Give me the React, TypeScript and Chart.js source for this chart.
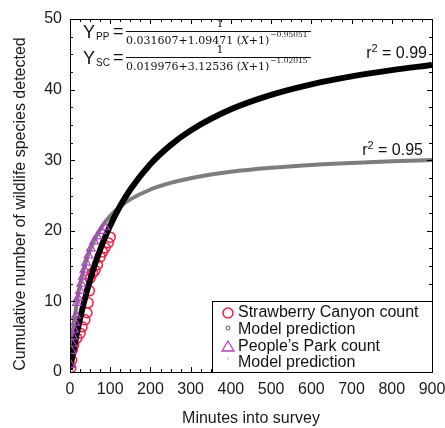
import React, { useEffect, useRef } from "react";
import { Chart, registerables } from "chart.js";

Chart.register(...registerables);

// Model prediction curves
const modelMinutes = [0, 5, 10, 20, 30, 40, 50, 60, 80, 100, 125, 150, 200, 250, 300, 400, 500, 600, 700, 800, 900];
const scModel = [0.32, 1.92, 3.44, 6.25, 8.77, 11.02, 13.06, 14.89, 18.09, 20.76, 23.54, 25.85, 29.46, 32.14, 34.21, 37.2, 39.25, 40.74, 41.87, 42.76, 43.49];
const ppModel = [0.89, 4.33, 6.96, 10.84, 13.61, 15.7, 17.33, 18.66, 20.66, 22.11, 23.45, 24.45, 25.85, 26.78, 27.45, 28.35, 28.92, 29.32, 29.61, 29.84, 30.02];

// Observed counts
const scMinutes = [2, 4, 6, 9, 17, 25, 30, 37, 42, 45, 48, 50, 56, 62, 68, 75, 81, 87, 95, 100];
const scCounts = [0.6, 1.7, 3.2, 3.8, 4.8, 5.5, 6.4, 7.4, 8.4, 9.8, 11.5, 13.3, 14, 14.4, 15.2, 16.3, 17, 17.6, 18.3, 19.1];
const ppMinutes = [2, 4, 6, 8, 10, 13, 15, 17, 20, 25, 28, 32, 36, 40, 46, 52, 60, 68, 78, 87];
const ppCounts = [1, 3, 4, 5, 6, 7, 8, 9.8, 10.5, 11.5, 12.5, 13.5, 14.5, 15.5, 16.5, 17.5, 18.5, 19.2, 20, 20.5];

const xTicks = [0, 100, 200, 300, 400, 500, 600, 700, 800, 900];
const yTicks = [0, 10, 20, 30, 40, 50];

const SANS = "'Liberation Sans', Arial, sans-serif";
const SERIF = "'DejaVu Serif', 'Liberation Serif', serif";

function drawFormula(ctx: CanvasRenderingContext2D, barY: number, sub: string, denom1: string, denom2: string, sup: string) {
  ctx.save();
  ctx.fillStyle = "#111";
  ctx.textBaseline = "alphabetic";
  ctx.textAlign = "left";
  ctx.font = `18px ${SANS}`;
  ctx.fillText("Y", 83, barY + 7);
  ctx.font = `10px ${SANS}`;
  ctx.fillText(sub, 96, barY + 9);
  ctx.font = `18px ${SANS}`;
  ctx.fillText("=", 113, barY + 6);
  // bar
  ctx.strokeStyle = "#111";
  ctx.lineWidth = 1;
  ctx.beginPath();
  ctx.moveTo(126, barY + 0.5);
  ctx.lineTo(311, barY + 0.5);
  ctx.stroke();
  // numerator
  ctx.font = `11px ${SERIF}`;
  ctx.textAlign = "center";
  ctx.fillText("1", 220, barY - 4);
  // denominator
  ctx.textAlign = "left";
  let x = 126;
  const by = barY + 13;
  ctx.font = `11px ${SERIF}`;
  ctx.fillText(denom1, x, by);
  x += ctx.measureText(denom1).width;
  ctx.font = `italic 11px ${SERIF}`;
  ctx.fillText("X", x, by);
  x += ctx.measureText("X").width;
  ctx.font = `11px ${SERIF}`;
  ctx.fillText(denom2, x, by);
  x += ctx.measureText(denom2).width + 1;
  ctx.font = `7.5px ${SERIF}`;
  ctx.fillText(sup, x, by - 7);
  ctx.restore();
}

const overlay = {
  id: "overlay",
  afterDraw(chart: any) {
    const ctx: CanvasRenderingContext2D = chart.ctx;
    const { left, right, top, bottom } = chart.chartArea;
    const xs = chart.scales.x;
    const ys = chart.scales.y;
    ctx.save();
    // frame
    ctx.strokeStyle = "#000";
    ctx.lineWidth = 1;
    ctx.strokeRect(Math.round(left) + 0.5, Math.round(top) + 0.5, Math.round(right - left), Math.round(bottom - top));
    // inward ticks
    ctx.beginPath();
    for (let v = 0; v <= 900; v += 25) {
      const px = Math.round(xs.getPixelForValue(v)) + 0.5;
      const len = v % 100 === 0 ? 5 : 3;
      ctx.moveTo(px, bottom);
      ctx.lineTo(px, bottom - len);
      ctx.moveTo(px, top);
      ctx.lineTo(px, top + len);
    }
    for (let v = 0; v <= 50; v += 2.5) {
      const py = Math.round(ys.getPixelForValue(v)) + 0.5;
      const len = v % 10 === 0 ? 5 : 3;
      ctx.moveTo(left, py);
      ctx.lineTo(left + len, py);
      ctx.moveTo(right, py);
      ctx.lineTo(right - len, py);
    }
    ctx.stroke();

    // y axis title
    ctx.save();
    ctx.translate(21, 204);
    ctx.rotate(-Math.PI / 2);
    ctx.font = `16px ${SANS}`;
    ctx.fillStyle = "#1a1a1a";
    ctx.textAlign = "center";
    ctx.textBaseline = "middle";
    ctx.fillText("Cumulative number of wildlife species detected", 0, 0);
    ctx.restore();

    // formulas
    drawFormula(ctx, 31, "PP", "0.031607+1.09471 (", "+1)", "\u22120.95051");
    drawFormula(ctx, 57, "SC", "0.019976+3.12536 (", "+1)", "\u22121.02015");

    // r^2 labels
    const r2 = (txt: string, xr: number, y: number) => {
      ctx.font = `16px ${SANS}`;
      ctx.fillStyle = "#111";
      ctx.textAlign = "left";
      ctx.textBaseline = "alphabetic";
      const w1 = ctx.measureText("r").width;
      ctx.font = `11px ${SANS}`;
      const w2 = ctx.measureText("2").width;
      ctx.font = `16px ${SANS}`;
      const w3 = ctx.measureText(txt).width;
      const x0 = xr - (w1 + w2 + w3);
      ctx.fillText("r", x0, y);
      ctx.font = `11px ${SANS}`;
      ctx.fillText("2", x0 + w1, y - 6);
      ctx.font = `16px ${SANS}`;
      ctx.fillText(txt, x0 + w1 + w2, y);
    };
    r2(" = 0.99", 427, 58);
    r2(" = 0.95", 423, 155);

    // legend
    const lx = 212, ly = 301, lw = right - 212, lh = bottom - 301;
    ctx.fillStyle = "#fff";
    ctx.fillRect(lx, ly, lw, lh);
    ctx.strokeStyle = "#000";
    ctx.lineWidth = 1;
    ctx.strokeRect(lx + 0.5, ly + 0.5, lw, lh);
    const rows = [313, 330, 347, 363];
    const labels = ["Strawberry Canyon count", "Model prediction", "People\u2019s Park count", "Model prediction"];
    const mx = 228;
    ctx.strokeStyle = "#ff1a3c";
    ctx.lineWidth = 1.5;
    ctx.beginPath();
    ctx.arc(mx, rows[0], 5, 0, Math.PI * 2);
    ctx.stroke();
    ctx.strokeStyle = "#555";
    ctx.lineWidth = 1;
    ctx.beginPath();
    ctx.arc(mx, rows[1] - 2, 2, 0, Math.PI * 2);
    ctx.stroke();
    ctx.strokeStyle = "#c03cc8";
    ctx.lineWidth = 1.3;
    ctx.beginPath();
    ctx.moveTo(mx, rows[2] - 6);
    ctx.lineTo(mx + 6, rows[2] + 4);
    ctx.lineTo(mx - 6, rows[2] + 4);
    ctx.closePath();
    ctx.stroke();
    ctx.strokeStyle = "#f2b6e6";
    ctx.beginPath();
    ctx.moveTo(mx, rows[3] - 6);
    ctx.lineTo(mx, rows[3] - 3);
    ctx.stroke();
    ctx.fillStyle = "#111";
    ctx.font = `16px ${SANS}`;
    ctx.textAlign = "left";
    ctx.textBaseline = "middle";
    labels.forEach((t, i) => ctx.fillText(t, 238, rows[i]));
    ctx.restore();
  },
};

export default function App() {
  const ref = useRef<HTMLCanvasElement>(null);
  useEffect(() => {
    const chart = new Chart(ref.current as HTMLCanvasElement, {
      type: "scatter",
      data: {
        datasets: [
          {
            label: "People's Park count",
            data: ppMinutes.map((m, i) => ({ x: m, y: ppCounts[i] })),
            pointStyle: "triangle",
            pointRadius: 5,
            borderColor: "#b53cc8",
            backgroundColor: "rgba(0,0,0,0)",
            borderWidth: 1.2,
            order: 1,
          },
          {
            label: "SC model",
            data: modelMinutes.map((m, i) => ({ x: m, y: scModel[i] })),
            showLine: true,
            borderColor: "#000",
            borderWidth: 6,
            pointRadius: 0,
            cubicInterpolationMode: "monotone",
            order: 2,
          },
          {
            label: "PP model",
            data: modelMinutes.map((m, i) => ({ x: m, y: ppModel[i] })),
            showLine: true,
            borderColor: "#7d7d7d",
            borderWidth: 4,
            pointRadius: 0,
            cubicInterpolationMode: "monotone",
            order: 3,
          },
          {
            label: "Strawberry Canyon count",
            data: scMinutes.map((m, i) => ({ x: m, y: scCounts[i] })),
            pointStyle: "circle",
            pointRadius: 5,
            borderColor: "#ff1a3c",
            backgroundColor: "rgba(0,0,0,0)",
            borderWidth: 1.5,
            order: 4,
          },
        ],
      } as any,
      options: {
        animation: false,
        responsive: false,
        maintainAspectRatio: false,
        layout: { padding: { top: 19, right: 13, left: 0, bottom: 0 } },
        plugins: { legend: { display: false }, tooltip: { enabled: false } },
        scales: {
          x: {
            type: "linear",
            min: 0,
            max: 900,
            afterBuildTicks: (s: any) => {
              s.ticks = xTicks.map((v) => ({ value: v }));
            },
            afterFit: (s: any) => {
              s.height = 56;
              s.paddingRight = 0;
              s.paddingLeft = 0;
            },
            ticks: { font: { size: 16, family: SANS }, color: "#1a1a1a", padding: 8, maxRotation: 0 },
            grid: { display: false, drawTicks: false },
            border: { display: false },
            title: { display: true, text: "Minutes into survey", font: { size: 16, family: SANS }, color: "#1a1a1a", padding: { top: 0, bottom: 0 } },
          },
          y: {
            type: "linear",
            min: 0,
            max: 50,
            afterBuildTicks: (s: any) => {
              s.ticks = yTicks.map((v) => ({ value: v }));
            },
            afterFit: (s: any) => {
              s.width = 70;
              s.paddingTop = 0;
              s.paddingBottom = 0;
            },
            ticks: { font: { size: 16, family: SANS }, color: "#1a1a1a", padding: 8 },
            grid: { display: false, drawTicks: false },
            border: { display: false },
            title: { display: false },
          },
        },
      } as any,
      plugins: [overlay],
    });
    return () => chart.destroy();
  }, []);
  return (
    <div style={{ position: "absolute", left: 0, top: 0, width: 445, height: 428, background: "#fff" }}>
      <canvas ref={ref} width={445} height={428} style={{ width: 445, height: 428, display: "block" }} />
    </div>
  );
}
